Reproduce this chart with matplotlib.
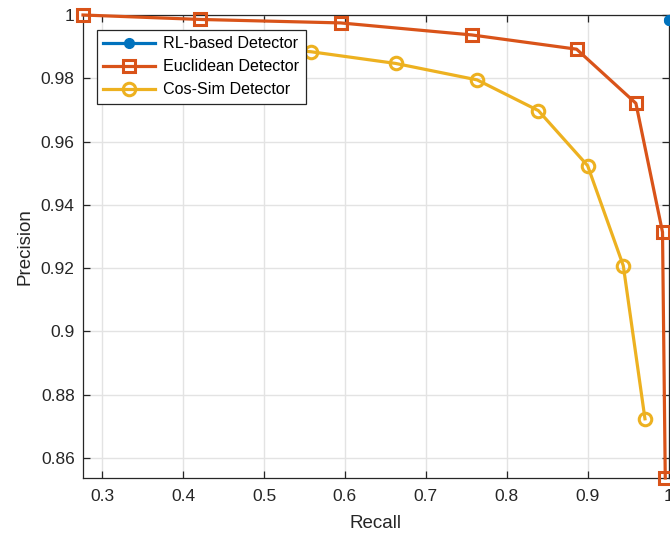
import matplotlib.pyplot as plt
from matplotlib.ticker import FuncFormatter, MultipleLocator

# precision / recall curves for the three detectors
rl_recall = [1.0, 1.0]
rl_precision = [0.9984, 0.9984]

euc_recall = [0.2762, 0.4206, 0.5946, 0.7568, 0.8864, 0.9597, 0.9926, 0.9960]
euc_precision = [1.0, 0.9986, 0.9975, 0.9937, 0.9892, 0.9721, 0.9314, 0.8537]

cos_recall = [0.33, 0.44, 0.5577, 0.6626, 0.7634, 0.8391, 0.9000, 0.9441, 0.9709]
cos_precision = [0.9925, 0.9905, 0.9884, 0.9847, 0.9795, 0.9698, 0.9524, 0.9208, 0.8724]

plt.rcParams['font.family'] = ['Liberation Sans', 'DejaVu Sans']

fig = plt.figure(figsize=(6.7, 5.37), dpi=100)
ax = fig.add_axes([83 / 670, 59 / 537, 585.5 / 670, 463 / 537])

blue = '#0072BD'
orange = '#D95319'
yellow = '#EDB120'

ax.plot(rl_recall, rl_precision, color=blue, lw=2.3, marker='o', ms=7,
        mfc=blue, mec=blue, label='RL-based Detector', clip_on=False, zorder=5)
ax.plot(euc_recall, euc_precision, color=orange, lw=2.3, marker='s', ms=8,
        mfc='none', mew=2.2, label='Euclidean Detector', clip_on=False, zorder=4)
ax.plot(cos_recall, cos_precision, color=yellow, lw=2.3, marker='o', ms=9,
        mfc='none', mew=2.2, label='Cos-Sim Detector', clip_on=False, zorder=3)

ax.set_xlim(0.2762, 1.0)
ax.set_ylim(0.8537, 1.0)
ax.xaxis.set_major_locator(MultipleLocator(0.1))
ax.yaxis.set_major_locator(MultipleLocator(0.02))
fmt = FuncFormatter(lambda v, p: '%g' % round(v, 4))
ax.xaxis.set_major_formatter(fmt)
ax.yaxis.set_major_formatter(fmt)

ax.grid(True, color='#e3e3e3', lw=1)
ax.set_axisbelow(True)
for s in ax.spines.values():
    s.set_color('#262626')
    s.set_linewidth(0.9)
ax.tick_params(direction='in', length=5, width=0.9, color='#262626',
               labelsize=12.5, labelcolor='#262626', top=True, right=True)
ax.tick_params(axis='x', pad=8)
ax.tick_params(axis='y', pad=6)

ax.set_xlabel('Recall', fontsize=13.5, color='#262626', labelpad=8)
ax.set_ylabel('Precision', fontsize=13.5, color='#262626', labelpad=5)

leg = ax.legend(loc='upper left', bbox_to_anchor=(0.024, 0.968), fontsize=11.6,
                frameon=True, fancybox=False, edgecolor='#262626',
                handlelength=3.2, borderpad=0.4, labelspacing=0.5,
                handletextpad=0.5, borderaxespad=0)
leg.get_frame().set_linewidth(0.9)
leg.get_frame().set_alpha(1)

fig.savefig('out.png', dpi=100)
